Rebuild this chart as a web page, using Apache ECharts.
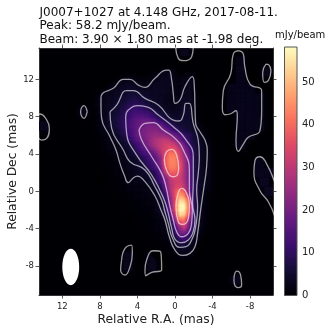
<!DOCTYPE html>
<html><head><meta charset="utf-8">
<style>html,body{margin:0;padding:0;background:#fff}#c{width:333px;height:332px}</style>
<script src="https://cdn.jsdelivr.net/npm/echarts@6/dist/echarts.min.js"></script>
</head><body><div id="c"></div>
<script>
const xTicks = [12, 8, 4, 0, -4, -8];
const yTicks = [12, 8, 4, 0, -4, -8];
const cbTicks = [0, 10, 20, 30, 40, 50];
const titleLines = ['J0007+1027 at 4.148 GHz, 2017-08-11.', 'Peak: 58.2 mJy/beam.', 'Beam: 3.90 × 1.80 mas at -1.98 deg.'];
const raColumns = [8.5,8,7.5,7,6.5,6,5.5,5,4.5,4,3.5,3,2.5,2,1.5,1,.5,0,-.5,-1,-1.5,-2,-2.5,-3,-3.5,-4];
const decRows = [13,12.5,12,11.5,11,10.5,10,9.5,9,8.5,8,7.5,7,6.5,6,5.5,5,4.5,4,3.5,3,2.5,2,1.5,1,.5,0,-.5,-1,-1.5,-2,-2.5,-3,-3.5,-4,-4.5,-5,-5.5,-6,-6.5,-7];
const flux = [
[0,0,0,0,0,0,0,0,0,0,0,0,0,.5,1,2.3,2.3,.8,0,0,0,0,0,0,0,0],
[0,0,0,0,0,0,.3,.5,.5,.3,0,.3,1,1.8,2.3,2.8,2.8,1.6,.5,.8,1.8,1,0,0,0,0],
[0,0,0,0,.5,1.5,2.3,2.5,2.4,1.5,1,1.3,2,2.5,3,3.2,3,1.8,1.4,2.4,2.8,1.5,.3,0,0,0],
[0,0,0,.7,1.5,2.5,3,3.2,3,2.5,2.2,2.2,2.8,3.2,3.4,3.4,3,1.9,1.6,2.7,3.1,1.7,.4,0,0,0],
[0,0,.4,1.5,2.6,3.2,3.8,4.5,4.6,4,3.4,3,3.2,3.4,3.4,3.3,2.9,2,1.8,2.8,3.2,1.8,.5,0,0,0],
[.5,1,2.4,2.8,3.2,3.7,4.4,5.2,5.6,5.2,4.7,4,3.6,3.5,3.3,3,2.6,2.1,2.4,3,3.3,1.9,.6,0,0,0],
[.8,2.2,2.6,3,3.5,4.3,5,6,6.8,6.5,5.8,4.8,4.1,3.7,3.3,2.8,2.4,2.2,2.8,3.4,3.6,2,.7,.2,0,0],
[.8,2.3,2.7,3.2,3.9,4.7,5.8,7.5,8.8,8.6,7.5,6,4.8,4.1,3.5,2.9,2.4,2.3,3.2,4,4.2,2.1,.7,.2,0,0],
[.7,2.2,2.7,3.4,4.6,5.5,7.2,9.3,10.8,10.8,10,8.4,6.2,5,4.5,3.4,2.8,2.7,3.7,4.4,4.6,2.2,.7,.2,0,0],
[.6,2.1,2.8,4,5,6,8,10,12,12.5,12,11,9.3,7,5.7,4.6,3.6,3.2,3.9,4.5,4.7,2.3,.7,.3,0,0],
[.5,2,2.9,4.6,5.6,7,9.2,11,13.5,15,15,14.5,12,9.5,7,6,5,4.2,4.4,4.6,4.7,2.6,.8,.3,0,0],
[.4,1.7,2.8,4.6,5.8,7.5,9.3,12,15,17,18.5,18.8,18.6,15,11.5,9,7,5.8,5.2,5,4.8,3,.9,.3,0,0],
[.3,1.5,2.6,4.2,5.5,7.2,9.4,13,15,17,19,20,20.5,20,18.8,14,10.5,8,6.3,5.5,5,4.4,2.3,1,.2,0],
[.3,1.2,2.1,3,4.5,6.2,8.6,11,14.5,17.8,20,21.5,22.5,22.5,21,19,15.5,11,8.6,6.8,5.8,5,3,1,.3,0],
[.2,.8,1.5,2.3,3.5,5.2,7,10.5,14,18,20,22,24,25,25,24,22,18.6,15,11,9,6,4.6,2.3,1,.2],
[.2,.7,1.3,2,2.8,3.8,5.2,8.5,12,15.5,19,21,25,28,30,31,28,24,18.6,13,9.5,6,4.6,2.6,1.2,.4],
[.1,.5,1,1.7,2.4,3,3.9,5.3,9,12,16,20,25,28,31,33,34,31,25,19,11,7.5,4.9,3,1.6,.5],
[.1,.4,.8,1.3,1.9,2.7,3.5,4.2,6.5,10.5,14,17,20,25,30,34,37,36,30,22,15,8.5,5,3.1,2,.6],
[.1,.3,.6,1,1.5,2.2,2.9,3.7,4.9,7.5,11,13.5,16,19.5,27,36,42,41,33,24,17,9.3,5,3.2,2.1,.7],
[.1,.2,.5,.8,1.2,1.8,2.5,3.2,3.9,5,8,10.5,13.5,17,23,38,43,43,34,26,18.6,9,5,3.2,2.1,.7],
[.1,.2,.4,.7,1,1.5,2.2,2.8,3.4,4.3,6.5,9.3,12,16,23,38,43,43,37,27,18.6,9,5,3.2,2.1,.7],
[.1,.2,.3,.6,.9,1.3,1.9,2.5,3,3.6,4.9,7.5,10.5,14,19,36,42,42,37,27,19,9,5,3.2,2.2,.7],
[.1,.2,.3,.5,.8,1.1,1.7,2.2,2.7,3.3,4,4.6,7,9.8,17.5,30,38,38,35,27,19,9,5,3.2,2.3,.7],
[.1,.1,.2,.4,.6,.9,1.4,2,2.5,3,3.4,3.8,5,9.3,13,22,31,34,33,27,19,9,5,3.2,2.3,.7],
[.1,.1,.2,.3,.4,.7,1.1,2.3,2.1,1.9,2.2,2.8,5,8.5,13,20,29,32,33,28,19,9.5,5,3.2,2.3,.7],
[.1,.1,.1,.2,.3,.5,.9,1.4,1.6,1.6,1.8,2,3.3,4.2,8.5,18.6,28,33,35,30,19.5,10,5,3.3,2.3,.7],
[.1,.1,.1,.2,.3,.4,.7,1,1.3,1.4,1.5,1.8,2.1,4.4,7.5,15,27,36,42,38,18,9,4.8,2.4,1.2,.5],
[.1,.1,.1,.1,.2,.3,.5,.7,.9,1.1,1.2,1.5,1.8,2.4,6,11,24,36,48,44,28,8.5,4.7,2.2,1,.4],
[.1,.1,.1,.1,.1,.2,.3,.5,.7,.9,1,1.2,1.5,1.8,4,9,22,35,54,52,37,9.3,4.5,2,.9,.3],
[.1,.1,.1,.1,.1,.1,.2,.4,.5,.7,.8,1,1.2,2.3,3.8,8,19,37,57,58,38,11,4.7,1.9,.8,.3],
[.1,.1,.1,.1,.1,.1,.2,.3,.4,.6,.7,.9,1,2.3,4.2,8,18,36,57,57,37,11,4.5,1.8,.7,.3],
[.1,.1,.1,.1,.1,.1,.1,.2,.3,.5,.6,.7,.9,1.5,3,5,13,30,53,52,34,11,4.5,1.8,.7,.3],
[.1,.1,.1,.1,.1,.1,.1,.2,.3,.4,.5,.6,.8,1.2,2,3.8,8.5,24,42,42,25,10,4.5,1.7,.6,.2],
[.1,.1,.1,.1,.1,.1,.1,.1,.2,.3,.4,.5,.6,.9,1.5,2.3,6,15,31,37,20,9,4.4,1.5,.5,.1],
[0,0,0,0,0,0,0,.1,.2,.3,.4,.5,.8,1.2,1.7,2,4.6,12,22,28,18,8,3.5,1,.4,0],
[0,0,0,0,0,0,0,0,.1,.2,.3,.4,.6,.9,1.3,1.8,3.5,9.5,19,20,12,6,2.8,.8,.2,0],
[0,0,0,0,0,0,0,0,0,.1,.2,.3,.4,.6,.9,1.2,2.3,5,11,13,9,3.5,1.8,.4,0,0],
[0,0,0,0,0,0,0,0,0,0,.1,.2,.3,.4,.5,.7,1.6,3.2,7.5,8.5,4.5,2.5,.8,.2,0,0],
[0,0,0,0,0,0,0,0,0,0,0,.1,.2,.3,.4,.5,.9,2.3,4.6,4.5,3,1.9,.4,0,0,0],
[0,0,0,0,0,0,0,0,0,0,0,0,.1,.2,.3,.3,.5,1.2,2.6,2.9,2.2,1,.2,0,0,0],
[0,0,0,0,0,0,0,0,0,0,0,0,0,.1,.1,.2,.3,.5,1.6,1.6,1,.4,.1,0,0,0]
];
const faintCells = [[-7,14,2],[-7,13,2.3],[-7,12,2.4],[-6,11,2.4],[-7,11,2.8],[-8,11,2.4],[-6,10,2.5],[-7,10,3],[-8,10,3],[-9,10,2.4],[-6,9,2.5],[-7,9,3],[-8,9,3],[-9,9,2.4],[-7,8,3],[-8,8,3.2],[-9,8,2.4],[-7,7,2.6],[-8,7,3],[-9,7,2.4],[-7,6,2.5],[-8,6,2.3],[-7,5,2.3],[-9,3,2.4],[-9,2,2.8],[-10,2,2.8],[-9.5,1,3],[-10,0,3],[5,-7,2.5],[5,-8,2.4],[2.5,-7,2.7],[2.5,-8,2.6],[-6.5,-9.5,2.3],[14,7,2.5],[9.7,8.5,2.2],[-9.8,12.8,2.2],[-1,15,2.5]];
const beam = [[11.1, -8.1, 1.8, 3.9]];
const contours = [
[[7.88,10.14],[7.63,10.57],[6.57,11.04],[5.5,12],[4.79,12],[3.9,11.39],[3.19,11.14],[2.13,12.11],[.89,13],[.64,13],[.35,11.93],[.18,10.5],[0,9.43],[-.53,9.79],[-1.06,11.21],[-1.85,12.29],[-2.06,11.21],[-2.13,9.07],[-2.2,7.29],[-2.66,6.39],[-3.19,5.5],[-3.44,4.43],[-3.37,2.64],[-3.09,.5],[-2.73,-2],[-2.41,-4.5],[-2.13,-5.93],[-1.6,-6.64],[-.82,-6.86],[0,-6.29],[.6,-4.86],[1.07,-3.07],[1.49,-2],[2.13,-.5],[3.19,1.04],[4.01,1.64],[4.5,1.39],[4.97,.93],[5.4,1.75],[5.86,3],[6.28,4.43],[6.92,5.86],[7.81,7.82],[7.88,9.07],[7.88,10.14]],
[[6.92,8.54],[6.21,9.25],[5.15,10.79],[4.44,10.79],[3.19,9.96],[1.77,9.25],[.18,7.64],[-.46,7.54],[-.89,8.18],[-1.17,9.43],[-1.53,9.43],[-1.95,7.29],[-2.48,5.5],[-2.59,3.71],[-2.48,1.93],[-2.31,.14],[-2.41,-1.64],[-2.2,-3.79],[-1.85,-5.04],[-1.17,-5.93],[-.53,-6],[.25,-5.04],[.71,-3.43],[1.07,-2.18],[1.42,-.93],[2.13,.5],[3.19,2.29],[4.79,3.18],[5.5,4.43],[6.74,6.75],[6.92,8.54]],
[[5.25,8],[4.97,8.71],[3.9,9.18],[2.84,9],[1.77,8.18],[.18,6.93],[-1.06,5.68],[-1.95,3.71],[-1.95,1.21],[-1.88,-1.29],[-2.13,-3.07],[-1.88,-4.5],[-1.42,-5.21],[-.71,-5.5],[0,-5.11],[.35,-3.96],[.71,-2.36],[1.07,-1.11],[1.53,-.04],[2.48,1.75],[4.08,3.89],[5.15,6.21],[5.25,8]],
[[3.83,6.57],[3.19,7.29],[2.31,7.36],[1.24,6.57],[0,5.68],[-.89,4.43],[-1.53,2.29],[-1.53,.14],[-1.85,-2],[-1.77,-3.43],[-1.42,-4.5],[-.71,-4.86],[-.18,-4.32],[.18,-3.07],[.53,-1.64],[.96,.5],[1.42,1.93],[2.48,3.71],[3.55,5.5],[3.83,6.57]],
[[1.14,3.36],[.89,4.25],[.35,4.5],[-.18,3.89],[-.39,2.46],[-.25,1.75],[.18,1.57],[.82,2.11],[1.14,3.36]],
[[-.11,-1.64],[-.28,-.39],[-.71,.32],[-1.24,-.21],[-1.53,-1.64],[-1.42,-2.89],[-.82,-3.54],[-.35,-3.25],[-.11,-1.64]],
[[14.6,8.2],[14.38,8.29],[13.84,7.93],[13.38,6.75],[13.66,5.68],[14.2,5.5],[14.6,5.8]],
[[9.34,8.54],[9.69,9.18],[10.05,8.54],[9.69,7.82],[9.34,8.54]],
[[-.07,15.6],[-.35,14.25],[-.89,14],[-1.78,14.43],[-1.95,15.6]],
[[-6.74,15.07],[-6.21,14.71],[-5.93,12.57],[-5.15,10.79],[-5.04,9],[-5.32,8.21],[-5.86,8.29],[-6.5,8.64],[-6.64,8.11],[-6.5,5.43],[-6.74,4.29],[-7.28,5.07],[-7.81,5.79],[-9.05,6.5],[-9.23,8.64],[-9.23,10.79],[-7.99,11.5],[-7.45,13.29],[-7.28,14.71],[-6.74,15.07]],
[[-9.69,13.64],[-9.34,12.75],[-9.51,11.68],[-9.94,11.86],[-10.22,12.93],[-9.98,13.57],[-9.69,13.64]],
[[-10.65,.93],[-9.58,3.29],[-9.05,3.71],[-8.52,3.29],[-8.41,2.04],[-9.05,.07],[-9.94,-1.11],[-10.65,-2.71]],
[[5.68,-7.36],[5.32,-6.11],[4.61,-5.75],[4.54,-6.64],[4.79,-8.07],[5.32,-8.96],[5.79,-8.43],[5.68,-7.36]],
[[3.19,-8.43],[3.02,-7.36],[2.31,-6.36],[1.53,-6.46],[1.42,-8.43],[2.48,-8.68],[3.12,-9.04],[3.19,-8.43]],
[[-6.28,-9.32],[-6.57,-8.54],[-6.99,-8.96],[-7.1,-10.04],[-6.74,-10.32],[-6.32,-9.86],[-6.28,-9.32]]
];
const magma = [[0,0,4],[20,14,54],[59,15,112],[100,26,128],[140,41,129],[183,55,121],[222,73,104],[247,112,92],[254,159,109],[254,207,146],[252,253,191]];
const colorMax = 58.2;

function colorOf(v) {
  const t = Math.max(0, Math.min(1, v / colorMax)) * (magma.length - 1);
  const i = Math.min(Math.floor(t), magma.length - 2), f = t - i;
  const a = magma[i], b = magma[i + 1];
  return 'rgb(' + Math.round(a[0] + (b[0] - a[0]) * f) + ',' + Math.round(a[1] + (b[1] - a[1]) * f) + ',' + Math.round(a[2] + (b[2] - a[2]) * f) + ')';
}
function at(r, c) { return (flux[r] && flux[r][c]) || 0; }

const gridCells = [];
flux.forEach((row, r) => row.forEach((v, c) => gridCells.push([raColumns[c], decRows[r], v, r, c])));

const SUB = 4;
function fieldCell(params, api) {
  const ra = api.value(0), dec = api.value(1), r = api.value(3), c = api.value(4);
  const s = api.size([0.5, 0.5]);
  const p = api.coord([ra, dec]);
  const children = [];
  for (let i = 0; i < SUB; i++) for (let j = 0; j < SUB; j++) {
    const u = (i + .5) / SUB - .5, w = (j + .5) / SUB - .5;
    const c2 = c + (u < 0 ? -1 : 1), r2 = r + (w < 0 ? -1 : 1);
    const a = Math.abs(u), b = Math.abs(w);
    const v = at(r, c) * (1 - a) * (1 - b) + at(r, c2) * a * (1 - b) + at(r2, c) * (1 - a) * b + at(r2, c2) * a * b;
    if (v < 0.04) continue;
    children.push({ type: 'rect', silent: true,
      shape: { x: p[0] + (u - .5 / SUB) * s[0], y: p[1] + (w - .5 / SUB) * s[1], width: s[0] / SUB + .8, height: s[1] / SUB + .8 },
      style: { fill: colorOf(v) } });
  }
  return { type: 'group', children };
}
function faintCell(params, api) {
  const p = api.coord([api.value(0), api.value(1)]);
  const s = api.size([1, 1]);
  const color = colorOf(api.value(2));
  return { type: 'rect', silent: true, shape: { x: p[0] - s[0] / 2, y: p[1] - s[1] / 2, width: s[0], height: s[1] },
    style: { fill: color, shadowBlur: 9, shadowColor: color } };
}

const cbLevels = [];
for (let i = 0; i <= 233; i++) cbLevels.push([i / 4]);

const axisColor = '#333';
const tickOpts = (vals) => ({ show: true, length: 3.5, customValues: vals, lineStyle: { color: axisColor, width: 0.8 } });
const lineOpts = { onZero: false, lineStyle: { color: axisColor, width: 1 } };
const font = 'DejaVu Sans';

const chart = echarts.init(document.getElementById('c'), null, { renderer: 'canvas' });
chart.setOption({
  animation: false,
  backgroundColor: '#fff',
  title: [
    { text: titleLines.join('\n'), left: 39.5, top: 6, padding: 0, textStyle: { fontFamily: font, fontSize: 12, fontWeight: 'normal', color: '#111', lineHeight: 13.4 } },
    { text: 'mJy/beam', left: 275, top: 30, padding: 0, textStyle: { fontFamily: font, fontSize: 10, fontWeight: 'normal', color: '#111' } }
  ],
  grid: [
    { left: 39, top: 48, width: 234, height: 247, backgroundColor: '#000004', show: true, borderWidth: 0, outerBoundsMode: 'none' },
    { left: 284.5, top: 47, width: 12.5, height: 248.5, show: false, outerBoundsMode: 'none' }
  ],
  xAxis: [
    { gridIndex: 0, type: 'value', inverse: true, min: -10.44, max: 14.48, position: 'bottom', splitLine: { show: false }, axisLine: lineOpts, axisTick: tickOpts(xTicks),
      axisLabel: { customValues: xTicks, fontFamily: font, fontSize: 8.5, color: '#222', margin: 7 },
      name: 'Relative R.A. (mas)', nameLocation: 'middle', nameGap: 19, nameMoveOverlap: false, nameTextStyle: { fontFamily: font, fontSize: 12.3, color: '#222' } },
    { gridIndex: 0, type: 'value', inverse: true, min: -10.44, max: 14.48, position: 'top', splitLine: { show: false }, axisLine: lineOpts, axisTick: tickOpts(xTicks), axisLabel: { show: false } },
    { gridIndex: 1, type: 'value', min: 0, max: 1, show: false }
  ],
  yAxis: [
    { gridIndex: 0, type: 'value', min: -11.1, max: 15.36, position: 'left', splitLine: { show: false }, axisLine: lineOpts, axisTick: tickOpts(yTicks),
      axisLabel: { customValues: yTicks, fontFamily: font, fontSize: 8.5, color: '#222', margin: 5 },
      name: 'Relative Dec (mas)', nameLocation: 'middle', nameGap: 20, nameMoveOverlap: false, nameRotate: 90, nameTextStyle: { fontFamily: font, fontSize: 12.3, color: '#222' } },
    { gridIndex: 0, type: 'value', min: -11.1, max: 15.36, position: 'right', splitLine: { show: false }, axisLine: lineOpts, axisTick: tickOpts(yTicks), axisLabel: { show: false } },
    { gridIndex: 1, type: 'value', min: 0, max: colorMax, position: 'right', splitLine: { show: false }, axisLine: { show: false }, axisTick: tickOpts(cbTicks),
      axisLabel: { customValues: cbTicks, fontFamily: font, fontSize: 10, color: '#222', margin: 5 } }
  ],
  series: [
    { type: 'custom', xAxisIndex: 0, yAxisIndex: 0, renderItem: faintCell, data: faintCells, clip: true, silent: true, encode: { x: 0, y: 1 }, progressive: 0 },
    { type: 'custom', xAxisIndex: 0, yAxisIndex: 0, renderItem: fieldCell, data: gridCells, clip: true, silent: true, encode: { x: 0, y: 1 }, progressive: 0 },
    ...contours.map(pts => ({
      type: 'line', xAxisIndex: 0, yAxisIndex: 0, data: pts, smooth: 0.5, symbol: 'none', clip: true, silent: true, z: 5,
      lineStyle: { color: 'rgba(255,255,255,0.6)', width: 1.3 }
    })),
    { type: 'custom', xAxisIndex: 0, yAxisIndex: 0, z: 6, clip: true, silent: true, data: beam, encode: { x: 0, y: 1 },
      renderItem: (params, api) => {
        const p = api.coord([api.value(0), api.value(1)]);
        const s = api.size([api.value(2), api.value(3)]);
        return { type: 'ellipse', shape: { cx: p[0], cy: p[1], rx: s[0] / 2, ry: s[1] / 2 }, style: { fill: '#fff' } };
      } },
    { type: 'custom', xAxisIndex: 2, yAxisIndex: 2, silent: true, data: cbLevels, encode: { y: 0 }, progressive: 0, clip: true,
      renderItem: (params, api) => {
        const a = api.coord([0, api.value(0)]), b = api.coord([1, Math.min(api.value(0) + 1, colorMax)]);
        return { type: 'rect', shape: { x: a[0], y: b[1], width: b[0] - a[0], height: a[1] - b[1] }, style: { fill: colorOf(api.value(0)) } };
      } },
    { type: 'custom', xAxisIndex: 2, yAxisIndex: 2, silent: true, z: 3, data: [[colorMax]], encode: { y: 0 },
      renderItem: (params, api) => {
        const a = api.coord([0, 0]), b = api.coord([1, api.value(0)]);
        return { type: 'rect', shape: { x: a[0], y: b[1], width: b[0] - a[0], height: a[1] - b[1] }, style: { fill: 'none', stroke: '#555', lineWidth: 1 } };
      } }
  ]
});
</script></body></html>
